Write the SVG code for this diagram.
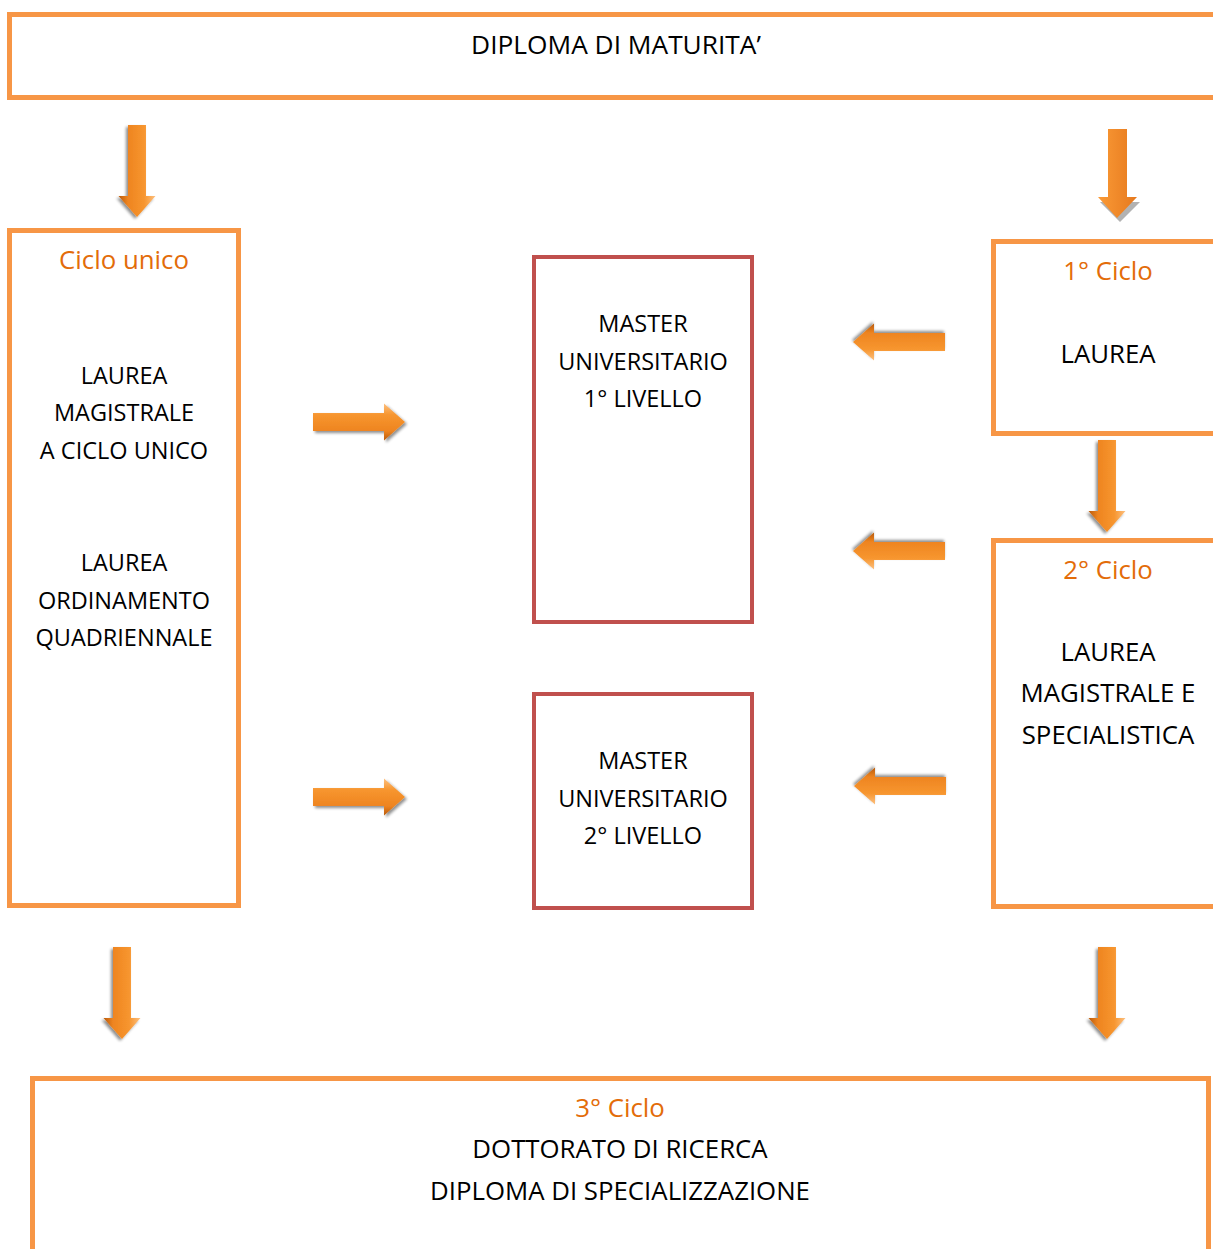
<svg xmlns="http://www.w3.org/2000/svg" width="1213" height="1249" viewBox="0 0 1213 1249">
<style>
.box{fill:#fff;stroke:#F79646;stroke-width:5}
.mbox{fill:#fff;stroke:#C0504D;stroke-width:4}
.t{font-family:"Open Sans","Noto Sans",sans-serif;font-size:23.5px;fill:#000;text-anchor:middle}
.tl{font-size:25.8px}
.td{font-size:26.3px}
.h{fill:#E36C09}
</style>
<defs>
<linearGradient id="ag" x1="0" y1="0" x2="0" y2="1">
<stop offset="0" stop-color="#FCC080"/>
<stop offset="0.3" stop-color="#F7962F"/>
<stop offset="0.75" stop-color="#EE8420"/>
<stop offset="1" stop-color="#B85A0C"/>
</linearGradient>
<linearGradient id="ag2" x1="0" y1="0" x2="1" y2="0">
<stop offset="0" stop-color="#FA9A36"/>
<stop offset="1" stop-color="#E6791E"/>
</linearGradient>
<filter id="sh" x="-20%" y="-30%" width="150%" height="170%">
<feGaussianBlur in="SourceAlpha" stdDeviation="1.5"/>
<feOffset dx="1.5" dy="2" result="b"/>
<feComponentTransfer><feFuncA type="linear" slope="0.45"/></feComponentTransfer>
<feMerge><feMergeNode/><feMergeNode in="SourceGraphic"/></feMerge>
</filter>
<path id="arr" d="M0,-9 L71,-9 L71,-18.5 L92,0 L71,18.5 L71,9 L0,9 Z" fill="url(#ag)" filter="url(#sh)"/>
</defs>
<g id="connectors">
<use href="#arr" transform="translate(137,125) rotate(90)"/>
<use href="#arr" transform="translate(313,422)"/>
<use href="#arr" transform="translate(313,797)"/>
<use href="#arr" transform="translate(945,342) rotate(180)"/>
<use href="#arr" transform="translate(945,551) rotate(180)"/>
<use href="#arr" transform="translate(946,786) rotate(180)"/>
<use href="#arr" transform="translate(1107,440) rotate(90)"/>
<use href="#arr" transform="translate(122,947) rotate(90)"/>
<use href="#arr" transform="translate(1107,947) rotate(90)"/>
<g id="arrow-flat">
<path d="M1110,201 L1129,201 L1129,202 L1140,202 L1120,222 L1100,202 L1110,202 Z" fill="#7f7f7f" opacity="0.6"/>
<path d="M1108,129 L1127,129 L1127,197 L1137,197 L1117,218 L1098,197 L1108,197 Z" fill="url(#ag2)"/>
</g>
</g>
<g id="n-diploma">
<rect class="box" x="9.5" y="14.5" width="1212" height="83"/>
<text class="t td" x="616" y="54">DIPLOMA DI MATURITA’</text>
</g>
<g id="n-ciclo-unico">
<rect class="box" x="9.5" y="230.5" width="229" height="675"/>
<text class="t tl h" x="124" y="269">Ciclo unico</text>
<text class="t" x="124" y="384">LAUREA</text>
<text class="t" x="124" y="421">MAGISTRALE</text>
<text class="t" x="124" y="459">A CICLO UNICO</text>
<text class="t" x="124" y="571">LAUREA</text>
<text class="t" x="124" y="609">ORDINAMENTO</text>
<text class="t" x="124" y="646">QUADRIENNALE</text>
</g>
<g id="n-master1">
<rect class="mbox" x="534" y="257" width="218" height="365"/>
<text class="t" x="643" y="332">MASTER</text>
<text class="t" x="643" y="370">UNIVERSITARIO</text>
<text class="t" x="643" y="407">1° LIVELLO</text>
</g>
<g id="n-master2">
<rect class="mbox" x="534" y="694" width="218" height="214"/>
<text class="t" x="643" y="769">MASTER</text>
<text class="t" x="643" y="807">UNIVERSITARIO</text>
<text class="t" x="643" y="844">2° LIVELLO</text>
</g>
<g id="n-ciclo1">
<rect class="box" x="993.5" y="241.5" width="230" height="192"/>
<text class="t tl h" x="1108" y="280">1° Ciclo</text>
<text class="t tl" x="1108" y="363">LAUREA</text>
</g>
<g id="n-ciclo2">
<rect class="box" x="993.5" y="540.5" width="230" height="366"/>
<text class="t tl h" x="1108" y="579">2° Ciclo</text>
<text class="t tl" x="1108" y="661">LAUREA</text>
<text class="t tl" x="1108" y="702">MAGISTRALE E</text>
<text class="t tl" x="1108" y="744">SPECIALISTICA</text>
</g>
<g id="n-ciclo3">
<rect class="box" x="32.5" y="1078.5" width="1176" height="190"/>
<text class="t tl h" x="620" y="1117">3° Ciclo</text>
<text class="t tl" x="620" y="1158">DOTTORATO DI RICERCA</text>
<text class="t tl" x="620" y="1200">DIPLOMA DI SPECIALIZZAZIONE</text>
</g>
</svg>
